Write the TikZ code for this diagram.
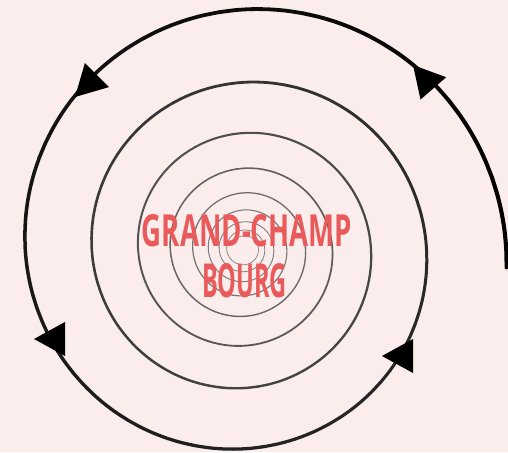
\documentclass[tikz,border=0pt]{standalone}
\usepackage{fontspec}
\setmainfont{Open Sans}
\usetikzlibrary{positioning}
\definecolor{bgpink}{HTML}{FCEDED}
\definecolor{townred}{HTML}{EA5A5A}

\begin{document}
\begin{tikzpicture}[x=1pt,y=1pt]

% --- Stijlen ---
\tikzset{
    townlabel/.style={text=townred, font=\bfseries, inner sep=0pt},
    spiralhead/.pic={\fill[black] (0,0) -- (-31,17) -- (-31,-17) -- cycle;}
}

    % Achtergrond
    \fill[bgpink] (0,0) rectangle (508,452);
    \useasboundingbox (0,0) rectangle (508,452);

    % Spiraal naar binnen, steeds dunner en lichter
    \foreach \a in {-4,16,...,2996} {
        \pgfmathsetmacro\rr{262.2*exp(-0.0010067*(\a+10))}
        \pgfmathsetmacro\lw{0.5+3.6*\rr/262}
        \pgfmathsetmacro\tint{45+55*\rr/262}
        \draw[line width=\lw pt, draw=black!\tint, line cap=round]
            plot[domain=\a:\a+20, samples=6, smooth]
            ({244+262.2*exp(-0.0010067*\x)*cos(\x)}, {203+262.2*exp(-0.0010067*\x)*sin(\x)});
    }

    % Pijlpunten op de buitenste winding
    \pic[rotate=131] (h1) at (413,387) {spiralhead};
    \pic[rotate=225] (h2) at (75,355) {spiralhead};
    \pic[rotate=180] (h3) at (34,113) {spiralhead};
    \pic[rotate=180] (h4) at (382,96) {spiralhead};

    % Plaatsnaam in het midden
    \node[townlabel] (grandchamp) at (247,221) {\resizebox{210pt}{32pt}{GRAND-CHAMP}};
    \node[townlabel, below=16pt of grandchamp, xshift=-2.5pt] (bourg) {\resizebox{85pt}{34pt}{BOURG}};

\end{tikzpicture}
\end{document}
